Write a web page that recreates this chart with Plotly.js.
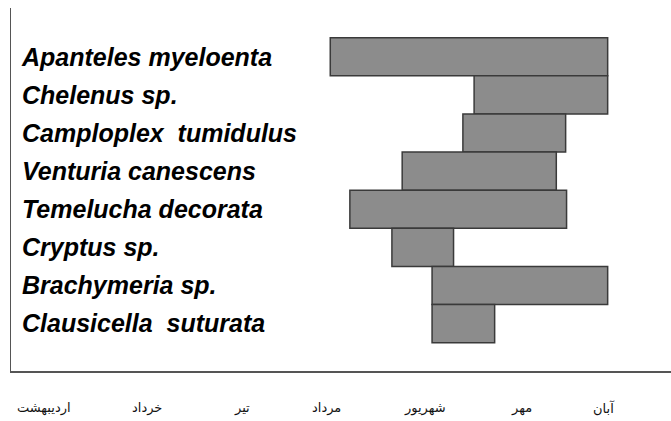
<!DOCTYPE html>
<html>
<head>
<meta charset="utf-8">
<script src="https://cdn.plot.ly/plotly-3.0.1.min.js"></script>
<style>html,body{margin:0;padding:0;background:#fff;}#chart{width:671px;height:421px;}</style>
</head>
<body>
<div id="chart"></div>
<script>
// Species (top to bottom)
const species = [
  "Apanteles myeloenta",
  "Chelenus sp.",
  "Camploplex  tumidulus",
  "Venturia canescens",
  "Temelucha decorata",
  "Cryptus sp.",
  "Brachymeria sp.",
  "Clausicella  suturata"
];
// Activity start / end, in months (0 = اردیبهشت ... 6 = آبان)
const startMonth = [3.07, 4.61, 4.49, 3.84, 3.28, 3.73, 4.16, 4.16];
const endMonth   = [6.04, 6.04, 5.59, 5.49, 5.60, 4.39, 6.04, 4.83];
// Month tick labels and their positions on the axis
const monthLabels = ["اردیبهشت", "خرداد", "تیر", "مرداد", "شهریور", "مهر", "آبان"];
const monthTicks  = [0, 1.108, 2.125, 3.035, 4.085, 5.113, 6.0];

const durations = endMonth.map((e, i) => e - startMonth[i]);

const trace = {
  type: "bar",
  orientation: "h",
  y: species,
  x: durations,
  base: startMonth,
  marker: { color: "#8c8c8c", line: { color: "#3a3a3a", width: 1.5 } },
  hoverinfo: "skip"
};

// Month labels drawn as annotations under the x axis (inside y labels would hide real tick labels)
const monthAnnotations = monthLabels.map((m, i) => ({
  text: m,
  x: monthTicks[i],
  xref: "x",
  y: -0.102,
  yref: "paper",
  xanchor: "center",
  yanchor: "middle",
  showarrow: false,
  font: { family: "DejaVu Sans", size: 13, color: "#111111" }
}));

const layout = {
  width: 671,
  height: 421,
  margin: { l: 11, r: 0, t: 8, b: 50 },
  paper_bgcolor: "#ffffff",
  plot_bgcolor: "#ffffff",
  showlegend: false,
  bargap: 0,
  annotations: monthAnnotations,
  xaxis: {
    range: [-0.348, 6.718],
    showgrid: false,
    zeroline: false,
    showline: true,
    linecolor: "#555555",
    linewidth: 1.5,
    ticks: "",
    showticklabels: false
  },
  yaxis: {
    type: "category",
    range: [8.243, -1.28],
    showgrid: false,
    zeroline: false,
    showline: true,
    linecolor: "#555555",
    linewidth: 1.5,
    ticks: "",
    ticklabelposition: "inside",
    ticklabelstandoff: 13,
    tickfont: { family: "Liberation Sans", size: 25, color: "#000000", weight: "bold", style: "italic" }
  }
};

Plotly.newPlot("chart", [trace], layout, { displayModeBar: false, staticPlot: true });
</script>
</body>
</html>
